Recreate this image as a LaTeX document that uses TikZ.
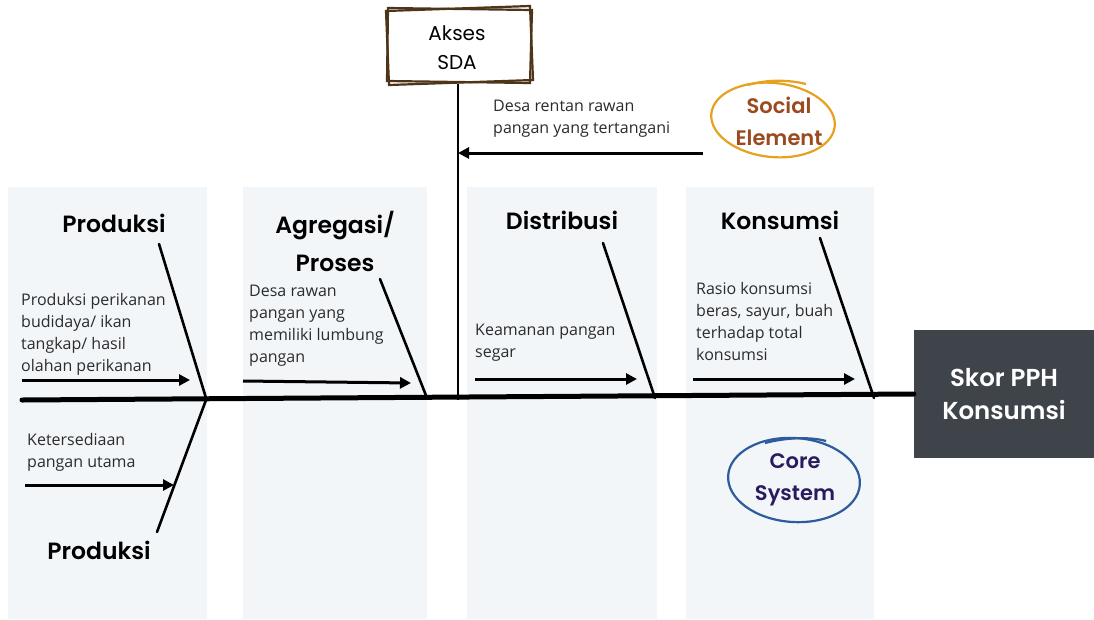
\documentclass[tikz,border=0pt]{standalone}
\usepackage{fontspec}
\setmainfont{Open Sans}
\newfontfamily\headfont{Poppins}[BoldFont={Poppins SemiBold}]
\usetikzlibrary{arrows.meta}
\definecolor{panel}{HTML}{F3F6F9}
\definecolor{headbox}{HTML}{3F444B}
\definecolor{frame}{HTML}{4E3419}
\definecolor{socialring}{HTML}{E6A21E}
\definecolor{socialtxt}{HTML}{9A4A1E}
\definecolor{corering}{HTML}{2C5C9E}
\definecolor{coretxt}{HTML}{2A1B5E}
\definecolor{bodytxt}{HTML}{2B2B2B}
\tikzset{
  panelbox/.style={fill=panel, draw=none},
  heading/.style={font=\headfont\fontsize{23.5}{38}\selectfont\bfseries, align=center, inner sep=0pt},
  bodytext/.style={font=\fontsize{16}{22}\selectfont, text=bodytxt, align=left, anchor=north west, inner sep=0pt},
  bone/.style={line width=2.6pt, line cap=round},
  feeder/.style={line width=3pt, -{Triangle[length=11pt,width=11pt]}},
  spine/.style={line width=5pt, line cap=round},
  ringtext/.style={font=\headfont\fontsize{21}{32}\selectfont\bfseries, align=center},
}
\begin{document}
\begin{tikzpicture}[x=1pt,y=-1pt]
\useasboundingbox (0,0) rectangle (1094,619);
\fill[white] (0,0) rectangle (1094,619);

% category panels
\fill[panelbox] (8,187) rectangle (207,619);
\fill[panelbox] (243,187) rectangle (427,619);
\fill[panelbox] (467,187) rectangle (657,619);
\fill[panelbox] (686,187) rectangle (874,619);

% result box
\node[fill=headbox, minimum width=180pt, minimum height=128pt, inner sep=0pt,
      text=white, font=\headfont\fontsize{24.5}{33}\selectfont\bfseries, align=center]
  (score) at (1004,394) {Skor PPH\\Konsumsi};

% main spine
\coordinate (tail) at (22,400);
\draw[spine] (tail) -- (score.west);

% access box with sketched double frame
\node[minimum width=144pt, minimum height=74pt, inner sep=0pt,
      font=\headfont\fontsize{20}{29}\selectfont, align=center] (akses) at (457,48) {Akses\\SDA};
\draw[frame, line width=2.2pt] (388,8) -- (532,10) -- (530,83) -- (387,81) -- cycle;
\draw[frame, line width=2.2pt] (386,11) -- (530,6) -- (533,80) -- (389,85) -- cycle;
\coordinate (aksesfoot) at (458,400);
\draw[line width=2.8pt] (458,84) -- (aksesfoot);

% social input
\coordinate (socstart) at (703,153);
\coordinate (socend) at (458,153);
\draw[feeder] (socstart) -- (socend);
\node[bodytext] (soctext) at (493,100) {Desa rentan rawan\\pangan yang tertangani};

% social element ring
\draw[socialring, line width=2.2pt, rotate around={-6:(773,120)}] (773,120) ellipse [x radius=62, y radius=37];
\draw[socialring, line width=2.2pt] (748,85) .. controls (768,79) and (790,80) .. (806,84);
\node[ringtext, text=socialtxt] (social) at (779,121) {Social\\Element};

% core system ring
\draw[corering, line width=2.2pt, rotate around={-4:(794,480)}] (794,480) ellipse [x radius=66, y radius=42];
\draw[corering, line width=2.2pt] (765,443) .. controls (788,437) and (812,437) .. (826,441);
\node[ringtext, text=coretxt] (core) at (795,480) {Core\\System};

% production (upper)
\node[heading] (prod) at (114,223) {Produksi};
\coordinate (prodtop) at (159,244);
\coordinate (prodbase) at (206,398);
\draw[bone] (prodtop) -- (prodbase);
\node[bodytext] (prodtext) at (21,293) {Produksi perikanan\\budidaya/ ikan\\tangkap/ hasil\\olahan perikanan};
\coordinate (prodin) at (22,380);
\coordinate (prodout) at (190,380);
\draw[feeder] (prodin) -- (prodout);

% production (lower)
\node[heading] (prodlow) at (99,550) {Produksi};
\coordinate (lowtop) at (206,400);
\coordinate (lowend) at (157,532);
\draw[bone] (lowtop) -- (lowend);
\node[bodytext] (lowtext) at (27,433) {Ketersediaan\\pangan utama};
\coordinate (lowin) at (25,485);
\coordinate (lowout) at (174,485);
\draw[feeder] (lowin) -- (lowout);

% aggregation / processing
\node[heading] (agr) at (335,241) {Agregasi/\\Proses};
\coordinate (agrtop) at (380,279);
\coordinate (agrbase) at (427,398);
\draw[bone] (agrtop) -- (agrbase);
\node[bodytext] (agrtext) at (249,285) {Desa rawan\\pangan yang\\memiliki lumbung\\pangan};
\coordinate (agrin) at (243,381);
\coordinate (agrout) at (411,383);
\draw[feeder] (agrin) -- (agrout);

% distribution
\node[heading] (dist) at (562,220) {Distribusi};
\coordinate (disttop) at (603,243);
\coordinate (distbase) at (655,398);
\draw[bone] (disttop) -- (distbase);
\node[bodytext] (disttext) at (475,324) {Keamanan pangan\\segar};
\coordinate (distin) at (475,379);
\coordinate (distout) at (637,379);
\draw[feeder] (distin) -- (distout);

% consumption
\node[heading] (kons) at (780,220) {Konsumsi};
\coordinate (konstop) at (820,238);
\coordinate (konsbase) at (874,398);
\draw[bone] (konstop) -- (konsbase);
\node[bodytext] (konstext) at (696,282) {Rasio konsumsi\\beras, sayur, buah\\terhadap total\\konsumsi};
\coordinate (konsin) at (693,379);
\coordinate (konsout) at (855,379);
\draw[feeder] (konsin) -- (konsout);
\end{tikzpicture}
\end{document}
